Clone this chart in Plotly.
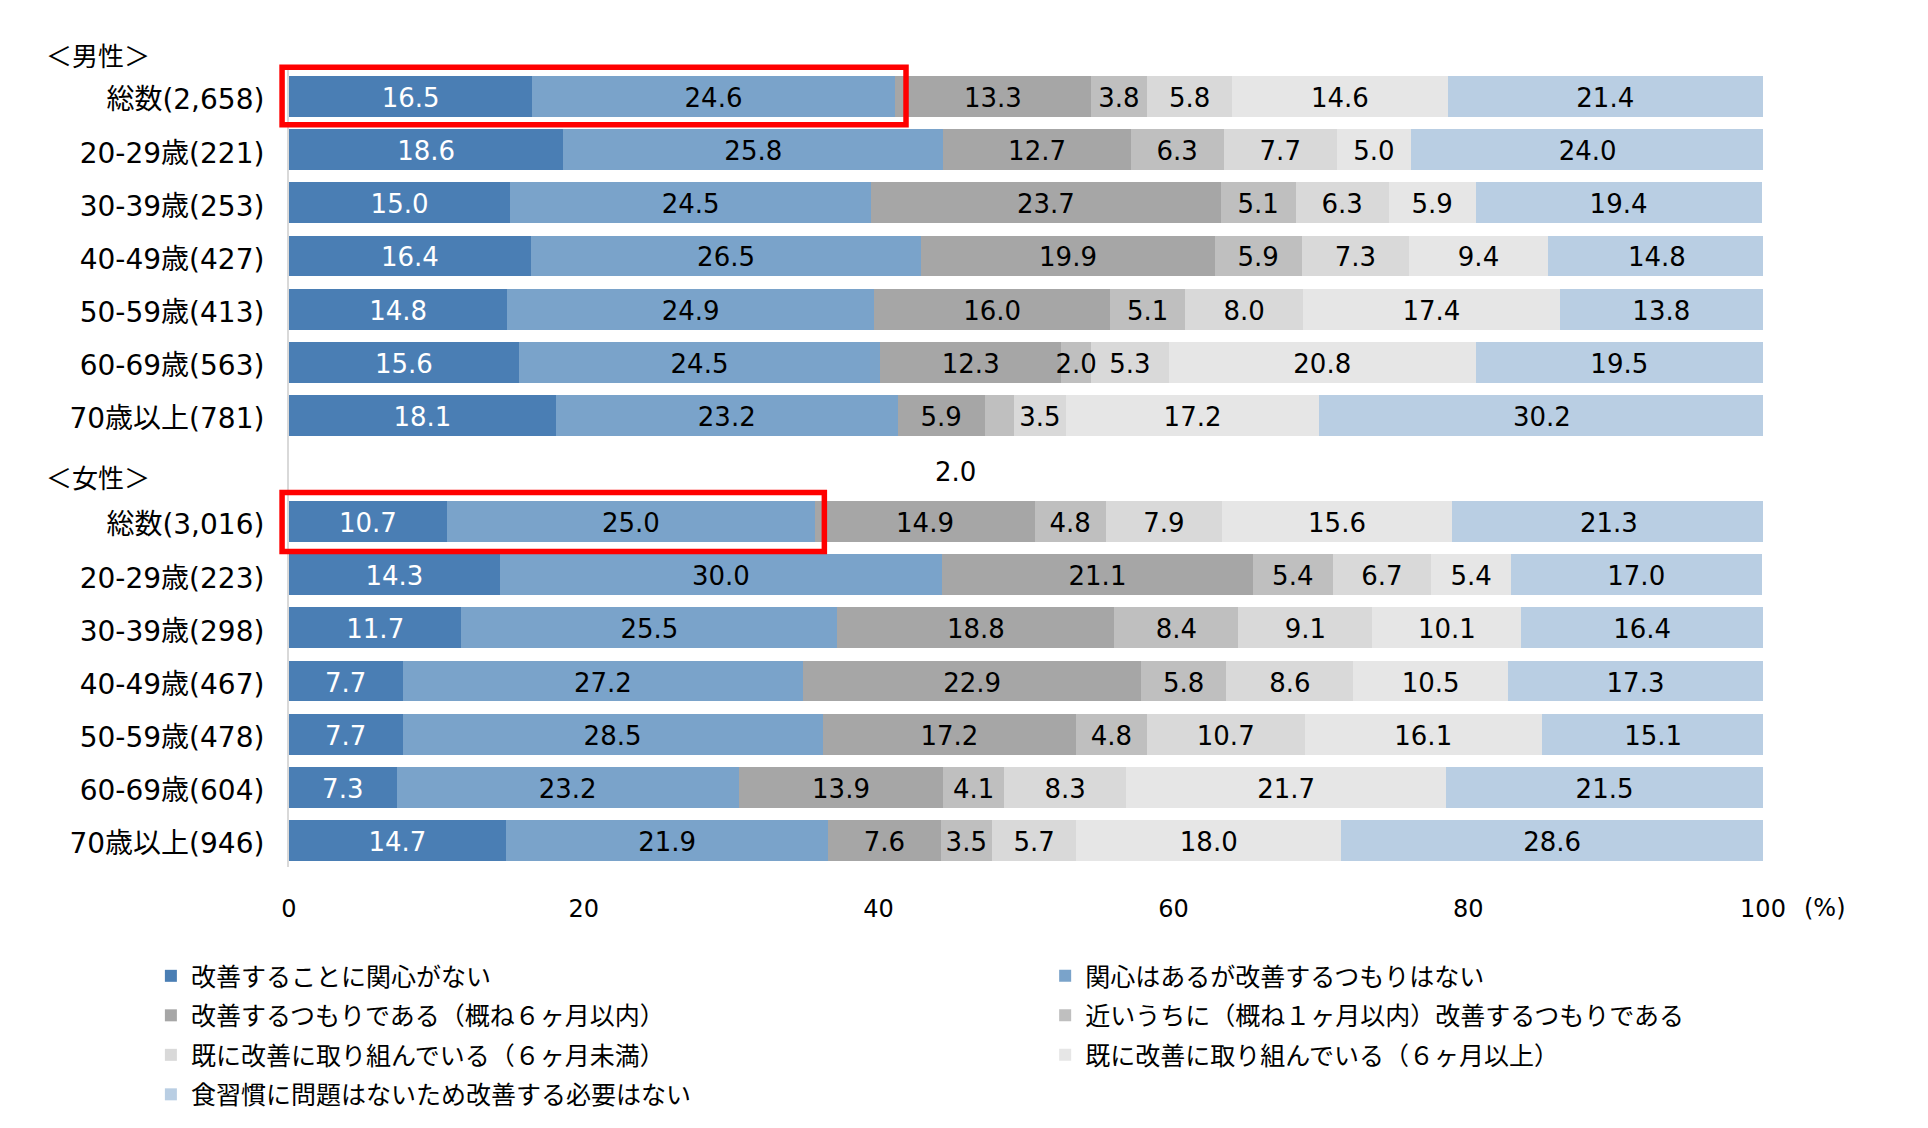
import plotly.graph_objects as go

FONT = "DejaVu Sans, Noto Sans CJK JP"
CJK = "Noto Sans CJK JP"

series_names = [
    "改善することに関心がない",
    "関心はあるが改善するつもりはない",
    "改善するつもりである（概ね６ヶ月以内）",
    "近いうちに（概ね１ヶ月以内）改善するつもりである",
    "既に改善に取り組んでいる（６ヶ月未満）",
    "既に改善に取り組んでいる（６ヶ月以上）",
    "食習慣に問題はないため改善する必要はない",
]
series_colors = ["#4A7EB4", "#7AA3CA", "#A6A6A6", "#BFBFBF", "#D9D9D9", "#E6E6E6", "#B9CEE3"]
text_colors = ["#FFFFFF", "#000000", "#000000", "#000000", "#000000", "#000000", "#000000"]

male_labels = ["総数(2,658)", "20-29歳(221)", "30-39歳(253)", "40-49歳(427)",
               "50-59歳(413)", "60-69歳(563)", "70歳以上(781)"]
female_labels = ["総数(3,016)", "20-29歳(223)", "30-39歳(298)", "40-49歳(467)",
                 "50-59歳(478)", "60-69歳(604)", "70歳以上(946)"]

# rows: 総数, 20-29, 30-39, 40-49, 50-59, 60-69, 70+
male_s1 = [16.5, 18.6, 15.0, 16.4, 14.8, 15.6, 18.1]
male_s2 = [24.6, 25.8, 24.5, 26.5, 24.9, 24.5, 23.2]
male_s3 = [13.3, 12.7, 23.7, 19.9, 16.0, 12.3, 5.9]
male_s4 = [3.8, 6.3, 5.1, 5.9, 5.1, 2.0, 2.0]
male_s5 = [5.8, 7.7, 6.3, 7.3, 8.0, 5.3, 3.5]
male_s6 = [14.6, 5.0, 5.9, 9.4, 17.4, 20.8, 17.2]
male_s7 = [21.4, 24.0, 19.4, 14.8, 13.8, 19.5, 30.2]

female_s1 = [10.7, 14.3, 11.7, 7.7, 7.7, 7.3, 14.7]
female_s2 = [25.0, 30.0, 25.5, 27.2, 28.5, 23.2, 21.9]
female_s3 = [14.9, 21.1, 18.8, 22.9, 17.2, 13.9, 7.6]
female_s4 = [4.8, 5.4, 8.4, 5.8, 4.8, 4.1, 3.5]
female_s5 = [7.9, 6.7, 9.1, 8.6, 10.7, 8.3, 5.7]
female_s6 = [15.6, 5.4, 10.1, 10.5, 16.1, 21.7, 18.0]
female_s7 = [21.3, 17.0, 16.4, 17.3, 15.1, 21.5, 28.6]

x_ticks = [0, 20, 40, 60, 80, 100]

male = [male_s1, male_s2, male_s3, male_s4, male_s5, male_s6, male_s7]
female = [female_s1, female_s2, female_s3, female_s4, female_s5, female_s6, female_s7]

n = len(male_labels)
male_pos = list(range(n))
gap_pos = n
female_pos = [n + 1 + i for i in range(n)]
ypos = male_pos + female_pos
tick_text = male_labels + female_labels
n_rows = len(ypos) + 1  # includes the empty separator row
y_lo, y_hi = -0.5, n_rows - 0.5


def ypaper(v):
    # reversed y axis: top of the plot is y_lo
    return (y_hi - v) / (y_hi - y_lo)


def xpaper(v):
    return (v - 0) / 100.0


DATA_SIZE = 26
TEXT_DROP = 0.075  # labels sit slightly below the bar centre, as in the original

fig = go.Figure()
for k in range(7):
    vals = male[k] + female[k]
    fig.add_trace(go.Bar(
        x=vals, y=ypos, orientation="h",
        name=series_names[k],
        marker=dict(color=series_colors[k], line=dict(width=0)),
        legend="legend" if k % 2 == 0 else "legend2",
        legendgroup=f"g{k}",
        hoverinfo="x+name",
    ))

# value labels drawn on top of all segments
lab_x, lab_y, lab_t, lab_c = [], [], [], []
all_rows = [[male[k][i] for k in range(7)] for i in range(n)] + \
           [[female[k][i] for k in range(7)] for i in range(n)]
for r, row_vals in zip(ypos, all_rows):
    cum = 0.0
    for k, v in enumerate(row_vals):
        mid = cum + v / 2
        cum += v
        if r == n - 1 and k == 3:
            continue  # male 70歳以上 small segment: label placed below the bar
        lab_x.append(min(mid, 100 - 0.01))
        lab_y.append(r + TEXT_DROP)
        lab_t.append(f"{v:.1f}")
        lab_c.append(text_colors[k])

fig.add_trace(go.Scatter(
    x=lab_x, y=lab_y, mode="text", text=lab_t, textposition="middle center",
    textfont=dict(family=FONT, size=DATA_SIZE, color=lab_c),
    showlegend=False, hoverinfo="skip", cliponaxis=False,
))

start_70 = male_s1[-1] + male_s2[-1] + male_s3[-1]
annotations = [
    dict(x=start_70 - 2.0, y=gap_pos + TEXT_DROP, xref="x", yref="y", text=f"{male_s4[-1]:.1f}",
         showarrow=False, font=dict(family=FONT, size=DATA_SIZE, color="#000000")),
    dict(x=-0.166, y=ypaper(-0.8), xref="paper", yref="paper", text="＜男性＞", xanchor="left",
         yanchor="middle", showarrow=False, font=dict(family=CJK, size=26, color="#000000")),
    dict(x=-0.166, y=ypaper(gap_pos + 0.15), xref="paper", yref="paper", text="＜女性＞",
         xanchor="left", yanchor="middle",
         showarrow=False, font=dict(family=CJK, size=26, color="#000000")),
    dict(x=xpaper(100), y=0, xref="paper", yref="paper", text="(%)", xanchor="center",
         yanchor="top", xshift=62, yshift=-24.5, showarrow=False,
         font=dict(family=FONT, size=24, color="#000000")),
]

shapes = []
for row, s1, s2, pad, bot in [(0, male_s1[0], male_s2[0], 0.76, 0.53),
                              (n + 1, female_s1[0], female_s2[0], 0.62, 0.56)]:
    shapes.append(dict(type="rect", xref="paper", yref="paper",
                       x0=xpaper(-0.47), x1=xpaper(s1 + s2 + pad),
                       y0=ypaper(row + bot), y1=ypaper(row - 0.55),
                       line=dict(color="#FF0000", width=5.5), fillcolor="rgba(0,0,0,0)",
                       layer="above"))

fig.update_layout(
    barmode="stack",
    bargap=0.23,
    width=1912, height=1112,
    margin=dict(l=281, r=157, t=62, b=253, autoexpand=False),
    paper_bgcolor="white", plot_bgcolor="white",
    font=dict(family=FONT, size=25, color="#000000"),
    xaxis=dict(range=[0, 100], tickvals=x_ticks, ticktext=[str(v) for v in x_ticks],
               showgrid=False, zeroline=False, showline=False, ticks="",
               ticklabelstandoff=25,
               tickfont=dict(family=FONT, size=24, color="#000000"), fixedrange=True),
    yaxis=dict(range=[y_hi, y_lo], tickvals=ypos, ticktext=tick_text,
               showgrid=False, zeroline=False, showline=True, linecolor="#D9D9D9", linewidth=2,
               ticks="", ticklabelstandoff=17, ticklabelshift=-3,
               tickfont=dict(family=FONT, size=28, color="#000000"), fixedrange=True),
    legend=dict(x=-0.0937, y=-0.108, xanchor="left", yanchor="top", orientation="v",
                traceorder="grouped", tracegroupgap=4, bgcolor="rgba(0,0,0,0)",
                font=dict(family=CJK, size=25, color="#000000")),
    legend2=dict(x=0.513, y=-0.108, xanchor="left", yanchor="top", orientation="v",
                 traceorder="grouped", tracegroupgap=4, bgcolor="rgba(0,0,0,0)",
                 font=dict(family=CJK, size=25, color="#000000")),
    annotations=annotations,
    shapes=shapes,
    showlegend=True,
)

fig.write_html("out.html")
